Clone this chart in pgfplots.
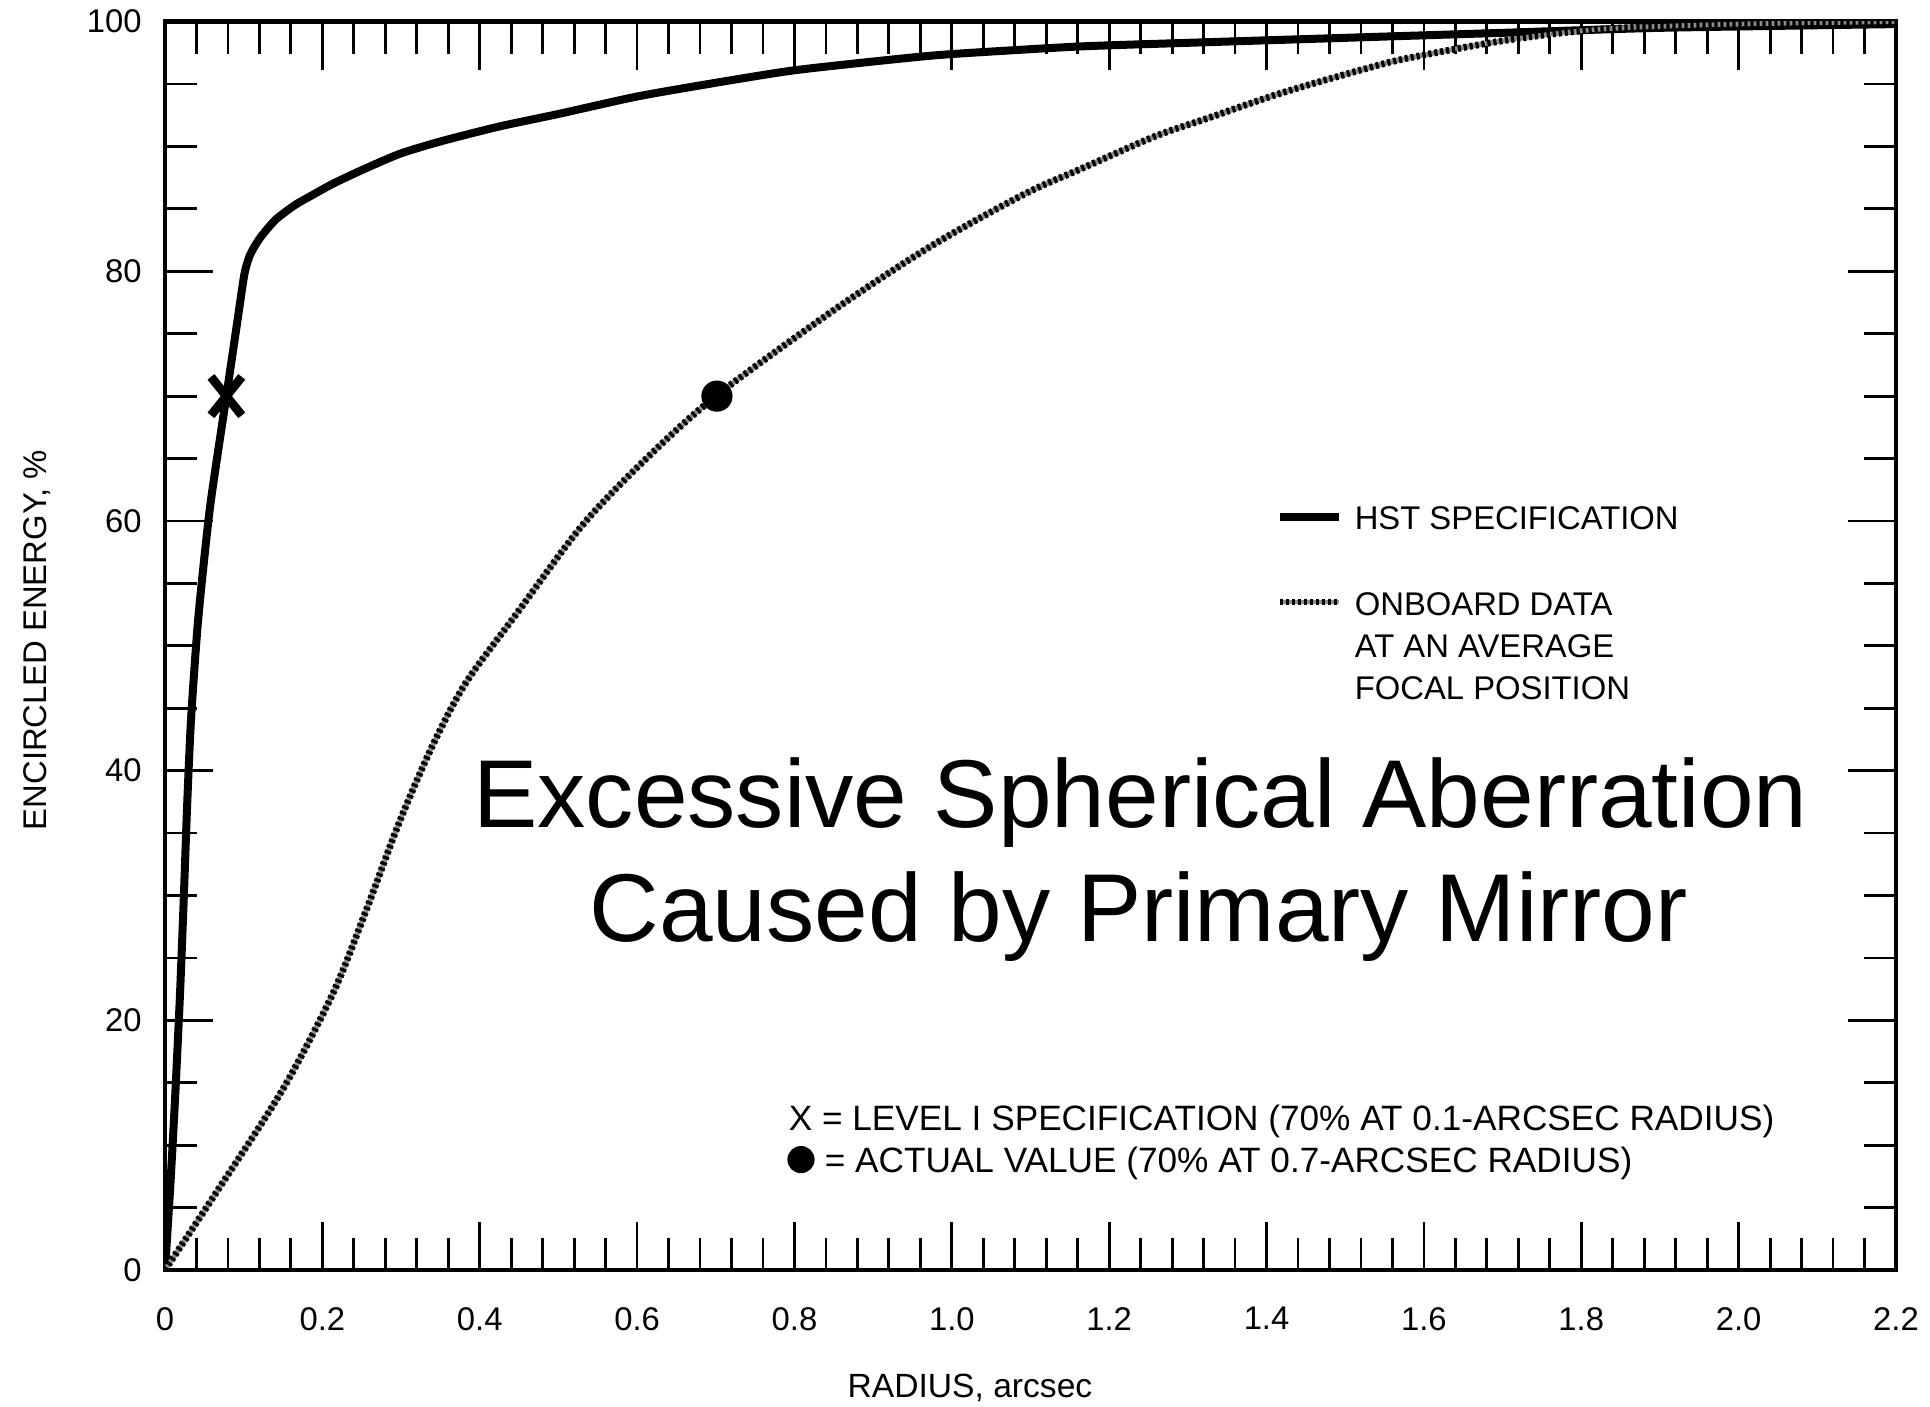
\documentclass[border=0pt]{standalone}
\usepackage{pgfplots}
\pgfplotsset{compat=1.18}
\usepackage{fontspec}
\setmainfont{Liberation Sans}
\begin{document}
\begin{tikzpicture}
\useasboundingbox (-41.25pt,-34pt) rectangle (441.25pt,317.5pt);
\begin{axis}[
  at={(0,0)}, anchor=south west,
  scale only axis, width=432.75pt, height=312.1pt,
  xmin=0, xmax=2.2, ymin=0, ymax=100,
  xtick={0,0.2,0.4,0.6,0.8,1.0,1.2,1.4,1.6,1.8,2.0,2.2},
  xticklabels={0,0.2,0.4,0.6,0.8,1.0,1.2,1.4,1.6,1.8,2.0,2.2},
  ytick={0,20,40,60,80,100},
  minor x tick num=4, minor y tick num=3,
  major tick length=12pt, minor tick length=8pt,
  tick style={black, line width=0.7pt},
  axis line style={line width=1.1pt},
  tick label style={font=\fontsize{8.2}{9.8}\selectfont},
  /pgf/number format/assume math mode=true,
  xticklabel style={yshift=-5.75pt},
  yticklabel style={xshift=-2.3pt},
]
% HST specification
\addplot[black, line width=2pt, smooth, tension=0.4] coordinates {
(0,0) (0.007,7) (0.013,14) (0.019,22) (0.024,30) (0.028,37) (0.033,44)
(0.042,52) (0.057,61) (0.078,70) (0.092,76) (0.101,79.8) (0.108,81.3)
(0.12,82.6) (0.14,84.1) (0.165,85.3) (0.19,86.2) (0.213,87) (0.25,88.1) (0.298,89.4)
(0.35,90.4) (0.425,91.6) (0.5,92.6) (0.6,94.0) (0.7,95.1) (0.8,96.1)
(0.93,97.0) (1.0,97.4) (1.16,98.0) (1.3,98.3) (1.5,98.7) (1.7,99.1)
(1.9,99.5) (2.2,99.8)
};
% Onboard data
\addplot[black, line width=1.7pt, dash pattern=on 0.8pt off 0.7pt, smooth, tension=0.5,
  preaction={draw=black!45, solid, line width=1.2pt}] coordinates {
(0,0) (0.064,6.1) (0.149,14.4) (0.213,22.1) (0.255,28.7) (0.298,35.9)
(0.34,42.0) (0.382,47.0) (0.446,52.5) (0.531,59.7) (0.615,65.2) (0.70,70.0)
(0.839,76.4) (0.933,80.4) (1.0,83.0) (1.096,86.3) (1.164,88.2) (1.258,90.8)
(1.327,92.3) (1.42,94.3) (1.53,96.3) (1.582,97.1) (1.704,98.5) (1.826,99.4)
(2.0,99.8) (2.2,100)
};
% Level I specification point
\addplot[only marks, mark=x, mark size=6.8pt, mark options={line width=2.2pt, black, xscale=0.8, yscale=1.0}] coordinates {(0.078,70)};
% Actual value point
\addplot[only marks, mark=*, mark size=3.7pt, mark options={fill=black, draw=black}] coordinates {(0.7015,70)};
\end{axis}
% axis labels
\node[font=\fontsize{8.4}{10}\selectfont] at (201.25pt,-29.5pt) {RADIUS, arcsec};
\node[font=\fontsize{8.2}{10}\selectfont, rotate=90] at (-32pt,157.5pt) {ENCIRCLED ENERGY, \%};
% legend
\draw[black, line width=2pt] (278.75pt,188.25pt) -- (293.5pt,188.25pt);
\draw[black, line width=1.7pt, dash pattern=on 0.8pt off 0.7pt, preaction={draw=black!45, solid, line width=1.2pt}] (278.75pt,167pt) -- (293.5pt,167pt);
\begin{scope}[every node/.style={font=\fontsize{8.2}{10}\selectfont, inner sep=0pt, anchor=base west}]
\node at (297.25pt,185.2pt) {HST SPECIFICATION};
\node at (297.25pt,163.6pt) {ONBOARD DATA};
\node at (297.25pt,153.2pt) {AT AN AVERAGE};
\node at (297.25pt,142.7pt) {FOCAL POSITION};
\end{scope}
% notes
\begin{scope}[every node/.style={font=\fontsize{8.8}{10}\selectfont, inner sep=0pt, anchor=base west}]
\node at (155.75pt,35pt) {X = LEVEL I SPECIFICATION (70\% AT 0.1-ARCSEC RADIUS)};
\node at (164.75pt,24.5pt) {= ACTUAL VALUE (70\% AT 0.7-ARCSEC RADIUS)};
\end{scope}
\fill[black] (159pt,27.6pt) circle (3.4pt);
% big annotation
\node[font=\fontsize{24.1}{29}\selectfont, inner sep=0pt, anchor=base] at (243.85pt,110.7pt) {Excessive Spherical Aberration};
\node[font=\fontsize{24.1}{29}\selectfont, inner sep=0pt, anchor=base] at (243.4pt,82.1pt) {Caused by Primary Mirror};
\end{tikzpicture}
\end{document}
